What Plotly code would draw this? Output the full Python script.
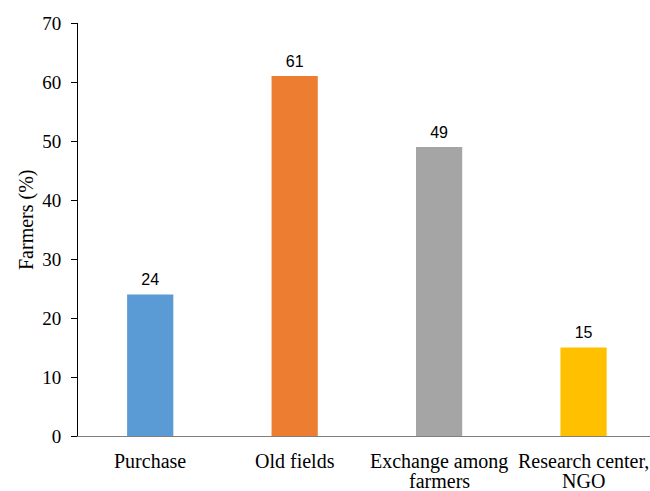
import plotly.graph_objects as go

categories = ["Purchase", "Old fields", "Exchange among<br>farmers", "Research center,<br>NGO"]
values = [24, 61, 49, 15]
colors = ["#5B9BD5", "#ED7D31", "#A5A5A5", "#FFC000"]
y_ticks = [0, 10, 20, 30, 40, 50, 60, 70]
y_title = "Farmers (%)"

SERIF = "Liberation Serif"
SANS = "Liberation Sans"

L, R, T, B = 78, 0, 23, 55
W, H = 650, 491
plot_w = W - L - R
plot_h = H - T - B

fig = go.Figure()
fig.add_trace(go.Bar(
    x=categories, y=values,
    marker=dict(color=colors, line=dict(width=0)),
    width=0.32,
    hoverinfo="skip",
))
fig.add_trace(go.Scatter(
    x=categories, y=values,
    mode="markers+text",
    marker=dict(size=7, color="rgba(0,0,0,0)"),
    text=[str(v) for v in values],
    textposition="top center",
    textfont=dict(family=SANS, size=16, color="#000000"),
    cliponaxis=False,
    hoverinfo="skip",
))

annotations = []
for cat in categories:
    for i, line in enumerate(cat.split("<br>")):
        annotations.append(dict(
            x=cat, xref="x", y=0, yref="paper",
            text=line, showarrow=False,
            xanchor="center", yanchor="middle",
            yshift=-25 - 20 * i,
            font=dict(family=SERIF, size=20, color="#000000"),
        ))
annotations.append(dict(
    x=(26 - L) / plot_w, xref="paper",
    y=(436 - 220) / plot_h, yref="paper",
    text=y_title, textangle=-90, showarrow=False,
    xanchor="center", yanchor="middle",
    font=dict(family=SERIF, size=20, color="#000000"),
))

fig.update_layout(
    width=W, height=H,
    margin=dict(l=L, r=R, t=T, b=B),
    plot_bgcolor="white", paper_bgcolor="white",
    showlegend=False,
    font=dict(family=SERIF, size=19, color="#000000"),
    annotations=annotations,
    xaxis=dict(
        type="category",
        range=[-0.5, 3.46],
        showline=True, linecolor="#7f7f7f", linewidth=1,
        ticks="", showgrid=False,
        showticklabels=False,
    ),
    yaxis=dict(
        range=[0, 70],
        tickvals=y_ticks,
        showline=True, linecolor="#000000", linewidth=1,
        ticks="outside", ticklen=6, tickcolor="#000000",
        showgrid=False, zeroline=False,
        tickfont=dict(family=SERIF, size=19, color="#000000"),
        ticklabelstandoff=6,
    ),
)

fig.write_html("out.html")
